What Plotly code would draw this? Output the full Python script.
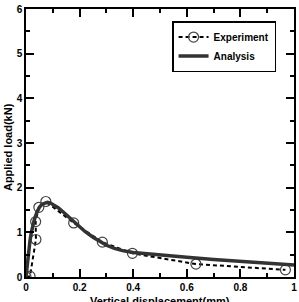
import plotly.graph_objects as go

# Experiment data (circles, dashed)
exp_x = [0.0, 0.015, 0.037, 0.036, 0.048, 0.074, 0.178, 0.285, 0.397, 0.634, 0.968]
exp_y = [0.0, 0.02, 0.84, 1.24, 1.56, 1.69, 1.21, 0.78, 0.53, 0.29, 0.16]

# Analysis curve (solid)
ana_x = [0, 0.005, 0.01, 0.015, 0.02, 0.025, 0.03, 0.04, 0.05, 0.06, 0.07, 0.08, 0.09,
         0.1, 0.12, 0.14, 0.16, 0.18, 0.2, 0.22, 0.25, 0.28, 0.3, 0.33, 0.36, 0.4,
         0.45, 0.5, 0.6, 0.7, 0.8, 0.9, 1.0]
ana_y = [0, 0.3, 0.58, 0.82, 1.0, 1.14, 1.26, 1.44, 1.56, 1.63, 1.66, 1.67, 1.66,
         1.63, 1.55, 1.45, 1.34, 1.23, 1.12, 1.02, 0.89, 0.77, 0.71, 0.64, 0.59, 0.55,
         0.52, 0.49, 0.44, 0.39, 0.35, 0.31, 0.27]

x_ticks = [0, 0.2, 0.4, 0.6, 0.8, 1]
x_ticktext = ["0", "0.2", "0.4", "0.6", "0.8", "1"]
y_ticks = [0, 1, 2, 3, 4, 5, 6]

fig = go.Figure()
fig.add_trace(go.Scatter(
    x=exp_x, y=exp_y, mode="lines+markers", name="Experiment",
    line=dict(color="black", width=2, dash="4px,3px"),
    marker=dict(symbol="circle-open", size=10, color="#444", line=dict(width=1.2)),
))
fig.add_trace(go.Scatter(
    x=ana_x, y=ana_y, mode="lines", name="Analysis",
    line=dict(color="#333333", width=3.5),
))

axis_common = dict(
    showline=True, linecolor="black", linewidth=1.5, mirror="ticks",
    ticks="inside", ticklen=8, tickwidth=1.5, tickcolor="black",
    showgrid=False, zeroline=False,
    tickfont=dict(family="Arial, Liberation Sans", size=10, color="black", weight="bold"),
)
fig.update_xaxes(range=[0, 1], tickvals=x_ticks, ticktext=x_ticktext,
                 minor=dict(dtick=0.1, ticklen=4, tickwidth=1.5, ticks="inside", tickcolor="black"),
                 **axis_common)
fig.update_yaxes(range=[0, 6], tickvals=y_ticks,
                 minor=dict(dtick=0.5, ticklen=4, tickwidth=1.5, ticks="inside", tickcolor="black"),
                 **axis_common)

fig.update_layout(
    width=299, height=302,
    margin=dict(l=26, r=3, t=7, b=25),
    plot_bgcolor="white", paper_bgcolor="white",
    font=dict(family="Arial, Liberation Sans", color="black"),
    legend=dict(x=0.545, y=0.955, xanchor="left", yanchor="top",
                bordercolor="black", borderwidth=1.5, bgcolor="white",
                font=dict(size=10, weight="bold"), tracegroupgap=0,
                itemwidth=30),
    annotations=[
        dict(text="Vertical displacement(mm)", xref="paper", yref="paper",
             x=0.5, y=-0.058, xanchor="center", yanchor="top", showarrow=False,
             font=dict(size=11, weight="bold")),
        dict(text="Applied load(kN)", xref="paper", yref="paper",
             x=-0.067, y=0.485, xanchor="center", yanchor="middle", showarrow=False,
             textangle=-90, font=dict(size=11, weight="bold")),
    ],
)

fig.write_html("out.html")
